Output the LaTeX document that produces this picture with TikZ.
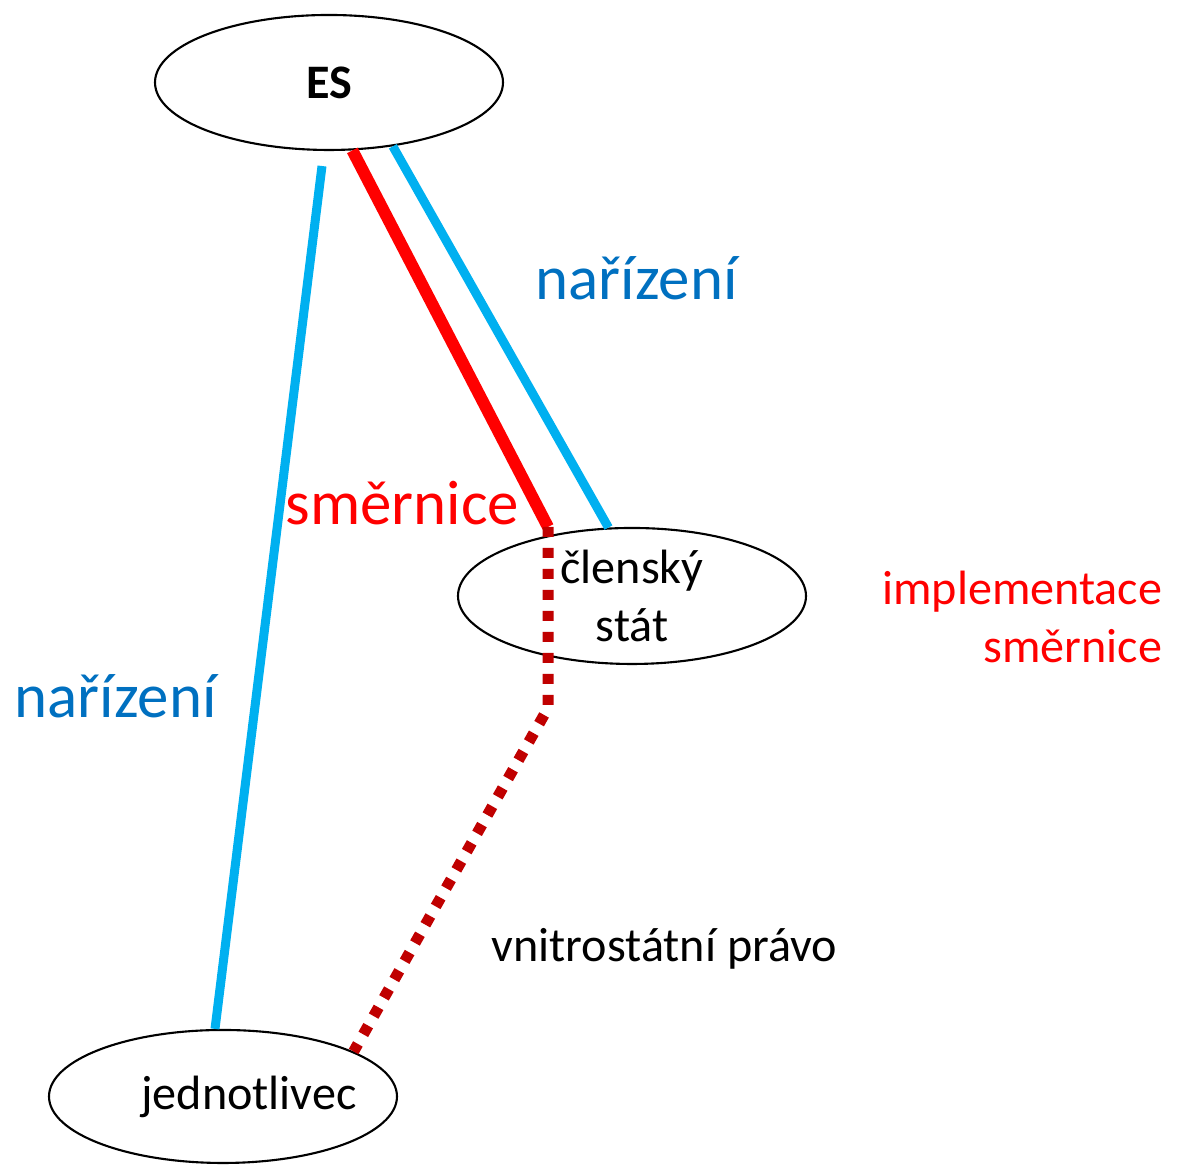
\documentclass[tikz,border=0pt]{standalone}
\usepackage{fontspec}
\setmainfont{Carlito}
\usetikzlibrary{shapes.geometric}
\definecolor{EuCyan}{RGB}{0,176,240}
\definecolor{EuBlue}{RGB}{0,112,192}
\definecolor{EuRed}{RGB}{255,0,0}
\definecolor{EuDarkRed}{RGB}{192,0,0}
\tikzset{
  eu/party/.style={
    ellipse,
    draw=black,
    line width=0.6pt,
    fill=white,
    inner sep=0pt,
    align=center,
    minimum width=3.48cm,
    minimum height=1.35cm,
    font=\fontsize{13.7}{16.6}\selectfont
  },
  eu/biglabel/.style={inner sep=0pt, font=\fontsize{17.9}{21}\selectfont},
  eu/label/.style={inner sep=0pt, font=\fontsize{13.7}{16.6}\selectfont},
  eu/regline/.style={line width=0.09cm, draw=EuCyan},
  eu/dirline/.style={line width=0.12cm, draw=EuRed},
  eu/implline/.style={line width=0.11cm, draw=EuDarkRed, dash pattern=on 0.1cm off 0.11cm}
}
\begin{document}
\begin{tikzpicture}[x=1cm,y=1cm]
  \useasboundingbox (0,0) rectangle (11.80,11.67);
  % parties
  \node[eu/party] (es) at (3.29,10.845) {\textbf{ES}};
  \node[eu/party,minimum height=1.36cm] (stat) at (6.32,5.71) {členský\\stát};
  \node[eu/party,minimum height=1.33cm,inner xsep=-0.2cm] (jed) at (2.23,0.705) {\hspace*{0.52cm}jednotlivec};
  \coordinate (smT) at (5.48,6.40);
  \coordinate (smB) at (5.48,4.59);
  % connectors
  \draw[eu/regline] ([shift={(-0.07,-0.15)}]es.south) -- ([xshift=-0.08cm]jed.north);
  \draw[eu/regline] (es.-45) -- (stat.109);
  \draw[eu/dirline] (es.-71) -- (smT);
  \draw[eu/implline] (smT) -- (smB) -- (jed.19);
  % labels
  \node[eu/biglabel,text=EuBlue,anchor=base west] (nar1) at (5.35,8.67) {nařízení};
  \node[eu/biglabel,text=EuBlue,anchor=base west] (nar2) at (0.14,4.49) {nařízení};
  \node[eu/biglabel,text=EuRed,anchor=base west] (smer) at (2.85,6.42) {směrnice};
  \node[eu/label,anchor=base west] (vnitro) at (4.91,2.05) {vnitrostátní právo};
  \node[eu/label,text=EuRed,align=right,anchor=east] (impl) at (11.63,5.50) {implementace\\směrnice};
\end{tikzpicture}
\end{document}
